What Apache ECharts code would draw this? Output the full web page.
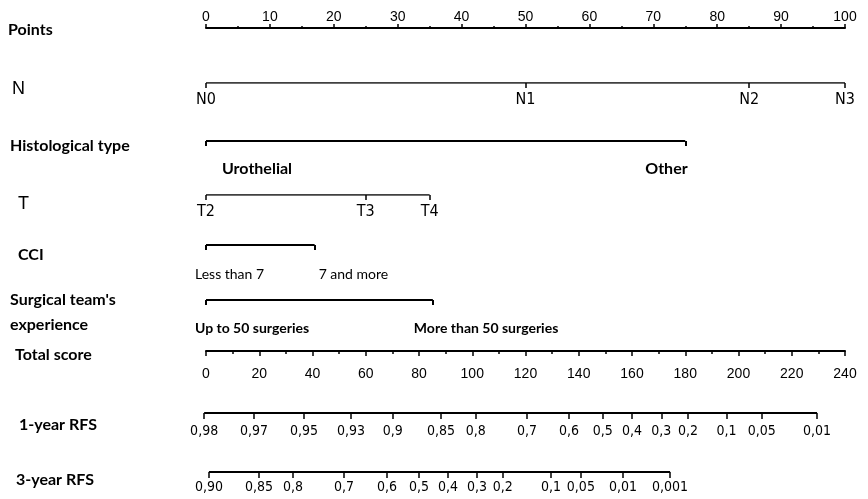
<!DOCTYPE html>
<html><head><meta charset="utf-8">
<script src="https://cdn.jsdelivr.net/npm/echarts@6/dist/echarts.min.js"></script>
<style>html,body{margin:0;padding:0;background:#fff}#c{width:868px;height:499px}</style>
</head><body><div id="c"></div>
<script>
// ---- data ----
const rowNames = ['Points','N','Histological type','T','CCI',"Surgical team's\nexperience",'Total score','1-year RFS','3-year RFS'];
const nLevels = ['N0','N1','N2','N3'];
const nPoints = [0,50,85,100];
const histLevels = ['Urothelial','Other'];
const histPoints = [0,75];
const tLevels = ['T2','T3','T4'];
const tPoints = [0,25,35];
const cciLevels = ['Less than 7','7 and more'];
const cciPoints = [0,17];
const surgLevels = ['Up to 50 surgeries','More than 50 surgeries'];
const surgPoints = [0,35.5];
const rfs1Labels = ['0,98','0,97','0,95','0,93','0,9','0,85','0,8','0,7','0,6','0,5','0,4','0,3','0,2','0,1','0,05','0,01'];
const rfs1Scores = [-0.7,18,36.8,54.5,70.1,88.3,101.3,120.6,136.3,149,160,171,181,195.5,208.7,229.5];
const rfs3Labels = ['0,90','0,85','0,8','0,7','0,6','0,5','0,4','0,3','0,2','0,1','0,05','0,01','0,001'];
const rfs3Scores = [1.1,19.9,32.7,51.8,68,80,90.9,101.8,111.5,129.6,140.8,156.6,174.3];

// ---- layout ----
const X0 = 206, X1 = 845, W = 868;
const LATO = 'Lato, "Open Sans", sans-serif';
const narrow = '"Liberation Sans Narrow","DejaVu Sans Condensed","Liberation Sans",sans-serif';
const grids = [], xAxes = [], yAxes = [], series = [];

function addRow(opt) {
  const gi = grids.length;
  const min = opt.min, max = opt.max;
  const ppu = (X1 - X0) / (max - 0);
  grids.push({left: X0 + min * ppu, right: W - X1, top: opt.y - 10, height: 10, outerBoundsMode: 'none'});
  if (opt.position === 'top') { grids[gi].top = opt.y; }
  xAxes.push(Object.assign({
    gridIndex: gi, type: 'value', min: min, max: max, position: opt.position || 'bottom',
    splitLine: {show: false},
    axisLine: {show: !!opt.axisLine, onZero: false, lineStyle: {color: '#000', width: 2}},
  }, opt.axis));
  yAxes.push({gridIndex: gi, type: 'value', min: 0, max: 1, show: false});
  if (opt.line) {
    series.push({type: 'line', xAxisIndex: gi, yAxisIndex: gi, symbol: 'none', silent: true,
      data: opt.line.map(v => [v, 0]), lineStyle: {color: '#000', width: opt.lw || 2}});
  }
  if (opt.scatter) {
    const s = opt.scatter;
    series.push({type: 'scatter', xAxisIndex: gi, yAxisIndex: gi, symbolSize: 0, silent: true,
      itemStyle: {opacity: 1},
      data: s.values.map((v, i) => ({value: [v, 0], name: s.labels[i],
        label: {offset: [s.dx[i], s.dy]}})),
      label: {show: true, position: 'inside', align: 'left', verticalAlign: 'middle', opacity: 1,
        formatter: p => p.name, color: '#000', fontFamily: LATO, fontSize: s.size, fontWeight: s.weight}});
  }
  return gi;
}

function lookup(vals, labs) { return v => { const i = vals.indexOf(v); return i >= 0 ? labs[i] : ''; }; }

// Points
addRow({y: 28, min: 0, max: 100, position: 'top', axisLine: true, axis: {
  interval: 10,
  axisTick: {show: true, length: 4, lineStyle: {color: '#000', width: 1.5}},
  minorTick: {show: true, splitNumber: 2, length: 2, lineStyle: {color: '#000', width: 1.5}},
  axisLabel: {margin: 4, color: '#000', fontFamily: 'Liberation Sans', fontSize: 14}
}});
// N
addRow({y: 83, min: 0, max: 100, line: [nPoints[0], nPoints[nPoints.length-1]], lw: 1.5, axis: {
  axisTick: {show: true, customValues: nPoints, length: 5, lineStyle: {color: '#000', width: 1.5}},
  axisLabel: {customValues: nPoints, formatter: lookup(nPoints, nLevels), margin: 9, color: '#000', fontFamily: narrow, fontSize: 16}
}});
// Histological type
addRow({y: 141, min: 0, max: 100, line: [histPoints[0], histPoints[1]], axis: {
  axisTick: {show: true, customValues: histPoints, length: 5, lineStyle: {color: '#000', width: 2}},
  axisLabel: {show: false}
}, scatter: {values: histPoints, labels: histLevels, dx: [16, -40], dy: 28, size: 16, weight: 'bold'}});
// T
addRow({y: 195, min: 0, max: 100, line: [tPoints[0], tPoints[tPoints.length-1]], lw: 1.5, axis: {
  axisTick: {show: true, customValues: tPoints, length: 5, lineStyle: {color: '#000', width: 1.5}},
  axisLabel: {customValues: tPoints, formatter: lookup(tPoints, tLevels), margin: 9, color: '#000', fontFamily: narrow, fontSize: 16}
}});
// CCI
addRow({y: 245, min: 0, max: 100, line: [cciPoints[0], cciPoints[1]], axis: {
  axisTick: {show: true, customValues: cciPoints, length: 5, lineStyle: {color: '#000', width: 2}},
  axisLabel: {show: false}
}, scatter: {values: cciPoints, labels: cciLevels, dx: [-11, 4], dy: 29, size: 14, weight: 'normal'}});
// Surgical team's experience
addRow({y: 300, min: 0, max: 100, line: [surgPoints[0], surgPoints[1]], axis: {
  axisTick: {show: true, customValues: surgPoints, length: 5, lineStyle: {color: '#000', width: 2}},
  axisLabel: {show: false}
}, scatter: {values: surgPoints, labels: surgLevels, dx: [-11, -19], dy: 28, size: 14, weight: 'bold'}});
// Total score
addRow({y: 351, min: 0, max: 240, axisLine: true, axis: {
  interval: 20,
  axisTick: {show: true, length: 5, lineStyle: {color: '#000', width: 1.5}},
  minorTick: {show: true, splitNumber: 2, length: 3, lineStyle: {color: '#000', width: 1.5}},
  axisLabel: {margin: 16, color: '#000', fontFamily: 'Liberation Sans', fontSize: 14}
}});
// 1-year RFS
addRow({y: 413, min: -2, max: 240, line: [rfs1Scores[0], rfs1Scores[rfs1Scores.length-1]], axis: {
  axisTick: {show: true, customValues: rfs1Scores, length: 6, lineStyle: {color: '#000', width: 1.5}},
  axisLabel: {customValues: rfs1Scores, formatter: lookup(rfs1Scores, rfs1Labels), margin: 11, color: '#000', fontFamily: '"DejaVu Sans Condensed", "DejaVu Sans", sans-serif', fontSize: 14}
}});
// 3-year RFS
addRow({y: 472, min: -2, max: 240, line: [rfs3Scores[0], rfs3Scores[rfs3Scores.length-1]], axis: {
  axisTick: {show: true, customValues: rfs3Scores, length: 6, lineStyle: {color: '#000', width: 1.5}},
  axisLabel: {customValues: rfs3Scores, formatter: lookup(rfs3Scores, rfs3Labels), margin: 8, color: '#000', fontFamily: '"DejaVu Sans Condensed", "DejaVu Sans", sans-serif', fontSize: 14}
}});

// row titles
const B = 'bold 16px Lato, "Open Sans", sans-serif';
const R = '18px "Liberation Sans", sans-serif';
const titlePos = [[8,30,B],[12,89,R],[10,146,B],[18,204,R],[18,255,B],[10,312,B],[15,355,B],[19,425,B],[16,480,B]];
const graphic = rowNames.map((t, i) => ({type: 'text', x: titlePos[i][0], y: titlePos[i][1],
  style: {text: t, font: titlePos[i][2], fill: '#000', verticalAlign: 'middle', lineHeight: 25}}));

const chart = echarts.init(document.getElementById('c'), null, {renderer: 'canvas'});
chart.setOption({animation: false, backgroundColor: '#fff', grid: grids, xAxis: xAxes, yAxis: yAxes, series: series, graphic: graphic});
</script></body></html>
